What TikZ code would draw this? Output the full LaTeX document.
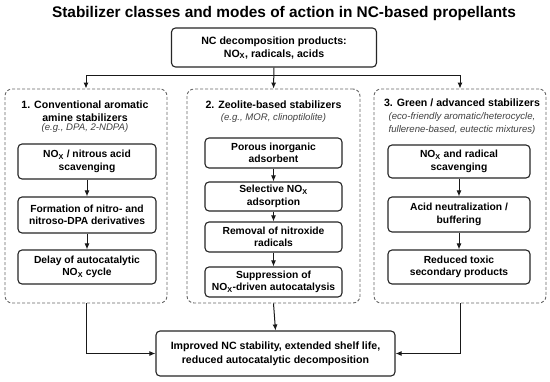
\documentclass[tikz,border=0pt]{standalone}
\usepackage{fontspec}
\setmainfont{Liberation Sans}
\usetikzlibrary{arrows.meta}
\tikzset{
  box/.style={draw=black!85, line width=1.1pt, rounded corners=4pt, fill=white, align=center,
    font=\bfseries\fontsize{10.3}{12.5}\selectfont, inner sep=0pt},
  group/.style={draw=black!60, dash pattern=on 3pt off 2pt, line width=0.9pt, rounded corners=7pt, inner sep=0pt},
  head/.style={align=center, font=\bfseries\fontsize{10.6}{12.5}\selectfont, inner sep=0pt},
  exam/.style={align=center, font=\itshape\fontsize{9.6}{12.5}\selectfont, text=black!75, inner sep=0pt},
  arr/.style={-{Latex[length=6pt,width=5pt]}, line width=1pt, draw=black!90},
  link/.style={line width=1pt, draw=black!90}
}
\newcommand{\nox}{NO\textsubscript{X}}
\begin{document}
\begin{tikzpicture}[x=1pt,y=-1pt]
\useasboundingbox (0,0) rectangle (550,381);
\fill[white] (0,0) rectangle (550,381);

\node[inner sep=0pt, font=\bfseries\fontsize{15.4}{18}\selectfont] (title) at (284,14)
  {Stabilizer classes and modes of action in NC-based propellants};

\node[box, minimum width=205pt, minimum height=39pt, font=\bfseries\fontsize{10.6}{13}\selectfont] (top) at (274,47.5)
  {NC decomposition products:\\\nox, radicals, acids};

% groups
\node[group, minimum width=162pt, minimum height=214pt] (g1) at (86,196) {};
\node[group, minimum width=173pt, minimum height=214pt] (g2) at (273.5,196) {};
\node[group, minimum width=172pt, minimum height=214pt] (g3) at (460,196) {};

% headings
\node[head] (h1) at (85,111) {1. Conventional aromatic\\amine stabilizers};
\node[exam] (e1) at (85,128) {(e.g., DPA, 2-NDPA)};
\node[head] (h2) at (273.5,105) {2. Zeolite-based stabilizers};
\node[exam] (e2) at (273.5,118) {(e.g., MOR, clinoptilolite)};
\node[head] (h3) at (462,103) {3. Green / advanced stabilizers};
\node[exam] (e3) at (462,123.5) {(eco-friendly aromatic/heterocycle,\\fullerene-based, eutectic mixtures)};

% column 1
\node[box, minimum width=138pt, minimum height=35pt] (a1) at (87,161.5) {\nox{} / nitrous acid\\scavenging};
\node[box, minimum width=138pt, minimum height=36pt] (a2) at (87,215) {Formation of nitro- and\\nitroso-DPA derivatives};
\node[box, minimum width=138pt, minimum height=34pt] (a3) at (87,267) {Delay of autocatalytic\\\nox{} cycle};

% column 2
\node[box, minimum width=137pt, minimum height=30pt] (b1) at (273.5,153) {Porous inorganic\\adsorbent};
\node[box, minimum width=137pt, minimum height=29pt] (b2) at (273.5,196.5) {Selective \nox\\adsorption};
\node[box, minimum width=137pt, minimum height=30pt] (b3) at (273.5,237) {Removal of nitroxide\\radicals};
\node[box, minimum width=137pt, minimum height=30pt] (b4) at (273.5,282) {Suppression of\\\nox-driven autocatalysis};

% column 3
\node[box, minimum width=142pt, minimum height=33pt] (c1) at (459,161.5) {\nox{} and radical\\scavenging};
\node[box, minimum width=142pt, minimum height=35pt] (c2) at (459,214.5) {Acid neutralization /\\buffering};
\node[box, minimum width=142pt, minimum height=34pt] (c3) at (459,267) {Reduced toxic\\secondary products};

% bottom
\node[box, minimum width=239pt, minimum height=45pt, font=\bfseries\fontsize{10.6}{14}\selectfont] (out) at (275.5,353.5)
  {Improved NC stability, extended shelf life,\\reduced autocatalytic decomposition};

% connectors from top
\coordinate (jl) at (86,75);
\coordinate (jr) at (460,75);
\draw[arr] (top.south) -- (g2.north);
\draw[link] (jl) -- (jr);
\draw[arr] (jl) -- (g1.north);
\draw[arr] (jr) -- (g3.north);

% inner arrows
\draw[arr] (a1) -- (a2);
\draw[arr] (a2) -- (a3);
\draw[arr] (b1) -- (b2);
\draw[arr] (b2) -- (b3);
\draw[arr] (b3) -- (b4);
\draw[arr] (c1) -- (c2);
\draw[arr] (c2) -- (c3);

% to outcome
\draw[arr] (g1.south) |- (out.west);
\draw[arr] (g2.south) -- (out.north);
\draw[arr] (g3.south) |- (out.east);
\end{tikzpicture}
\end{document}
